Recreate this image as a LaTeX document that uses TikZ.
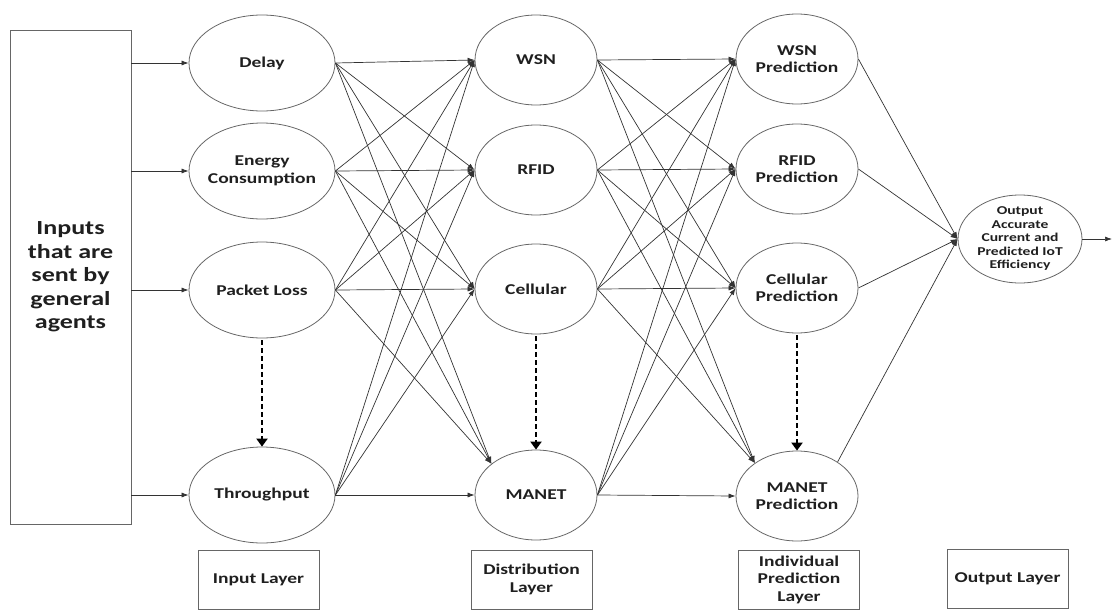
\documentclass[tikz,border=0pt]{standalone}
\usepackage{fontspec}
\newfontfamily\lab[FakeStretch=1.3]{Carlito}
\usetikzlibrary{shapes.geometric,arrows.meta}
\begin{document}
\begin{tikzpicture}[x=1pt,y=-1pt,
  txt/.style={font=\lab\bfseries\fontsize{15}{17.5}\selectfont, text=black!88, align=center},
  ring/.style={ellipse, draw=black!60, line width=0.8pt, inner sep=0pt,
    label={[txt]center:#1}},
  inode/.style={ring={#1}, minimum width=146pt, minimum height=96pt},
  dnode/.style={ring={#1}, minimum width=122pt, minimum height=90pt},
  onode/.style={ellipse, draw=black!60, line width=0.8pt, inner sep=0pt,
    minimum width=124pt, minimum height=88pt,
    label={[txt, font=\lab\bfseries\fontsize{12}{13.5}\selectfont]center:#1}},
  layerbox/.style={draw=black!60, line width=0.8pt, minimum width=121pt, minimum height=59pt, inner sep=0pt, txt},
  link/.style={draw=black!80, line width=0.7pt, -{Latex[length=7pt,width=5pt]}},
  dashlink/.style={draw=black, line width=2.6pt, dash pattern=on 5pt off 3pt,
    -{Triangle[length=8pt,width=11pt]}, shorten <=2pt},
]
\useasboundingbox (0,0) rectangle (1113,610);

% source of all inputs
\node[draw=black!60, line width=0.8pt, minimum width=121pt, minimum height=494pt, inner sep=0pt,
      txt, font=\lab\bfseries\fontsize{20}{23.5}\selectfont] (src) at (70.5,277)
  {Inputs\\that are\\sent by\\general\\agents};

% input layer
\node[inode={Delay}] (delay) at (262,63) {};
\node[inode={Energy\\Consumption}] (energy) at (262,171) {};
\node[inode={Packet Loss}] (ploss) at (262,290) {};
\node[inode={Throughput}] (thru) at (262,495) {};

% distribution layer
\node[dnode={WSN}] (wsn) at (536,60) {};
\node[dnode={RFID}] (rfid) at (536,170) {};
\node[dnode={Cellular}] (cell) at (536,289) {};
\node[dnode={MANET}] (manet) at (536,495) {};

% individual prediction layer
\node[dnode={WSN\\Prediction}] (wpred) at (797,59) {};
\node[dnode={RFID\\Prediction}] (rpred) at (797,169) {};
\node[dnode={Cellular\\Prediction}] (cpred) at (797,288) {};
\node[dnode={MANET\\Prediction}] (mpred) at (797,496) {};

% output
\node[onode={Output\\Accurate\\Current and\\Predicted IoT\\Efficiency}] (out) at (1020,239) {};
\coordinate (sink) at (1112,239);

% layer captions
\node[layerbox] (capin) at (258.5,579.5) {Input Layer};
\node[layerbox] (capdist) at (531.5,579.5) {Distribution\\Layer};
\node[layerbox] (cappred) at (799,579.5) {Individual\\Prediction\\Layer};
\node[layerbox] (capout) at (1007.5,579) {Output Layer};

% inputs into the input layer
\foreach \t in {delay,energy,ploss,thru}
  \draw[link] (src.east |- \t.west) -- (\t.west);

% input layer -> distribution layer
\foreach \s in {delay,energy,ploss,thru}
  \foreach \t in {wsn,rfid,cell}
    \draw[link] (\s.east) -- (\t.west);
\foreach \s in {delay,energy,ploss}
  \draw[link] (\s.east) -- (manet.145);
\draw[link] (thru.east) -- (manet.west);

% distribution layer -> prediction layer
\foreach \s in {wsn,rfid,cell,manet}
  \foreach \t in {wpred,rpred,cpred}
    \draw[link] (\s.east) -- (\t.west);
\foreach \s in {wsn,rfid,cell}
  \draw[link] (\s.east) -- (mpred.142);
\draw[link] (manet.east) -- (mpred.west);

% prediction layer -> output
\foreach \s in {wpred,rpred,cpred}
  \draw[link] (\s.east) -- (out.west);
\draw[link] (mpred.40) -- (out.west);
\draw[link] (out.east) -- (sink);

% dashed continuation arrows
\draw[dashlink] (ploss.south) -- (thru.north);
\draw[dashlink] (cell.south) -- (manet.north);
\draw[dashlink] (cpred.south) -- (mpred.north);
\end{tikzpicture}
\end{document}
